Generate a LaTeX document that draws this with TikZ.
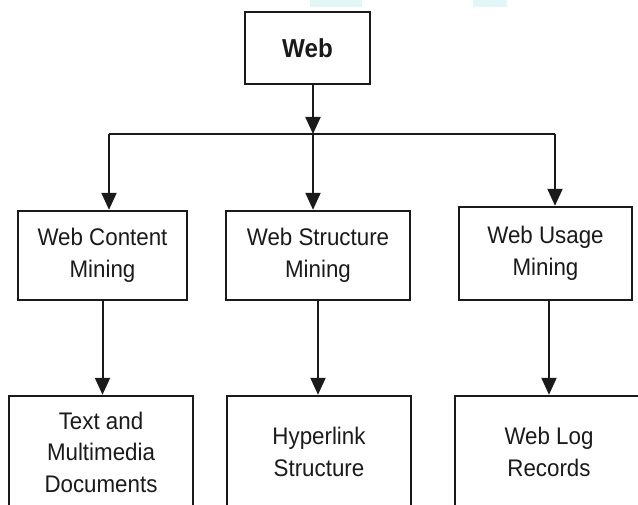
\documentclass[tikz,border=0pt]{standalone}
\usepackage{fontspec}
\setmainfont{Liberation Sans}[FakeStretch=0.93]
\usetikzlibrary{arrows.meta}
\definecolor{inkc}{HTML}{1A1A1A}
\definecolor{wmark}{HTML}{E2F6F8}
\tikzset{
  box/.style={draw=inkc, line width=2.4pt, rectangle, inner sep=0pt, align=center,
    font=\fontsize{24}{31.5}\selectfont, text=inkc},
  conn/.style={draw=inkc, line width=2pt},
  arr/.style={conn, -{Triangle[width=15pt,length=17pt]}}
}
\begin{document}
\begin{tikzpicture}[x=1pt,y=-1pt]
\useasboundingbox (0,0) rectangle (638,505);
\clip (0,0) rectangle (638,505);
\fill[white] (0,0) rectangle (638,505);
% faint watermark traces at the top edge
\fill[wmark] (310,0) rectangle (362,7);
\fill[wmark] (473,0) rectangle (507,7);

\node[box, minimum width=125pt, minimum height=72pt, font=\fontsize{26}{31}\selectfont\bfseries] (web) at (307.5,48) {Web};

\node[box, minimum width=169pt, minimum height=89pt] (wcm) at (102.5,255.5) {Web Content\\Mining};
\node[box, minimum width=184pt, minimum height=89pt] (wsm) at (318,255.5) {Web Structure\\Mining};
\node[box, minimum width=173pt, minimum height=93pt] (wum) at (545.5,253.5) {Web Usage\\Mining};

\node[box, minimum width=184pt, minimum height=112pt] (tmd) at (101,452) {Text and\\Multimedia\\Documents};
\node[box, minimum width=184pt, minimum height=112pt] (hs) at (319,452) {Hyperlink\\Structure};
\node[box, minimum width=188pt, minimum height=112pt] (wlr) at (549,452) {Web Log\\Records};

\coordinate (j) at (313,134);
\coordinate (jl) at (109,134);
\coordinate (jr) at (555,134);

\draw[arr] (web.south -| j) -- (j);
\draw[conn] (jl) -- (jr);
\draw[arr] (jl) -- (jl |- wcm.north);
\draw[arr] (j) -- (j |- wsm.north);
\draw[arr] (jr) -- (jr |- wum.north);

\draw[arr] (wcm.south) -- (wcm.south |- tmd.north);
\draw[arr] (wsm.south) -- (wsm.south |- hs.north);
\draw[arr] (wlr.north |- wum.south) -- (wlr.north);
\end{tikzpicture}
\end{document}
